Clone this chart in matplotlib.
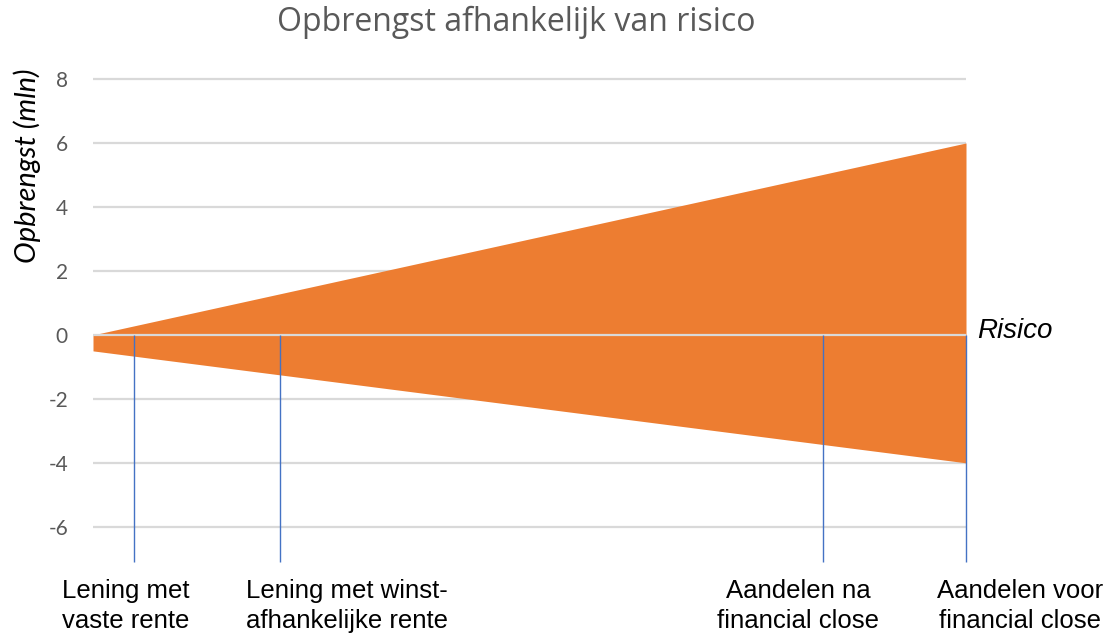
import matplotlib.pyplot as plt
import numpy as np

plt.rcParams['axes.unicode_minus'] = False

# risk axis runs from 0 (no risk) to 1 (max risk)
risk = [0.0, 1.0]
upper = [0.0, 6.0]
lower = [-0.5, -4.0]

markers = [0.047, 0.214, 0.836, 1.0]
labels = ['Lening met\nvaste rente', 'Lening met winst-\nafhankelijke rente',
          'Aandelen na\nfinancial close', 'Aandelen voor\nfinancial close']
label_x = [0.038, 0.291, 0.808, 1.062]
yticks = [8, 6, 4, 2, 0, -2, -4, -6]

fig = plt.figure(figsize=(11.07, 6.36), dpi=100)
ax = fig.add_axes([93 / 1107, 1 - 562 / 636, 873 / 1107, (562 - 72.6) / 636])

ax.fill_between(risk, lower, upper, color='#ED7D31', linewidth=0, zorder=2)
for t in yticks:
    z = 3 if t == 0 else 1
    ax.axhline(t, color='#D9D9D9', linewidth=1.6, zorder=z)

ax.vlines(markers, -7.1, 0, color='#4472C4', linewidth=1.0, zorder=4, clip_on=False)

for x, lab in zip(label_x, labels):
    ax.text(x, -8.47, lab, ha='center', va='center', fontsize=18.5,
            family='Liberation Sans', linespacing=1.3, clip_on=False)

ax.text(1.0125, 0.12, 'Risico', ha='left', va='center', fontsize=20,
        style='italic', family='Liberation Sans')

ax.set_xlim(0, 1)
ax.set_ylim(-7.1, 8.2)
ax.set_yticks(yticks)
ax.set_xticks([])
ax.tick_params(axis='y', length=0, pad=18, labelsize=15, labelcolor='#595959')
for lab in ax.get_yticklabels():
    lab.set_family('Lato')
for s in ax.spines.values():
    s.set_visible(False)

fig.text(516 / 1107, 1 - 22 / 636, 'Opbrengst afhankelijk van risico', ha='center',
         va='center', fontsize=23, color='#595959', family='Open Sans')
fig.text(27 / 1107, 1 - 166 / 636, 'Opbrengst (mln)', rotation=90, ha='center',
         va='center', fontsize=21, style='italic', family='Lato')

fig.savefig('out.png')
